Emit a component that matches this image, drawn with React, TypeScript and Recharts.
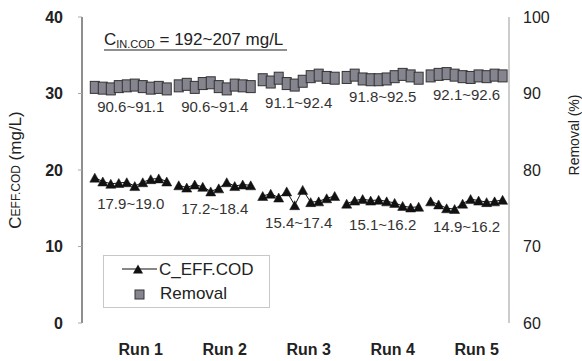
import React from 'react';
import {
  ComposedChart,
  Line,
  Scatter,
  XAxis,
  YAxis,
  ReferenceArea,
  ReferenceDot,
  Legend,
} from 'recharts';

const FONT = '"Liberation Sans", Arial, Helvetica, sans-serif';

// ---- data ----
const runLabels = ['Run 1', 'Run 2', 'Run 3', 'Run 4', 'Run 5'];

// C_EFF.COD (mg/L), left axis
const effRun1 = [19.0, 18.5, 18.2, 18.3, 18.4, 17.9, 18.4, 18.8, 18.9, 18.5];
const effRun2 = [18.0, 17.7, 18.1, 17.8, 17.2, 17.6, 18.4, 17.9, 18.1, 18.0];
const effRun3 = [16.6, 16.9, 16.4, 17.2, 15.4, 17.4, 15.8, 15.9, 16.3, 16.6];
const effRun4 = [15.6, 16.0, 16.2, 16.0, 16.1, 15.9, 15.7, 15.3, 15.1, 15.2];
const effRun5 = [15.9, 15.5, 15.0, 14.9, 15.6, 16.2, 16.0, 15.8, 15.9, 16.1];

// Removal (%), right axis
const remRun1 = [90.8, 90.7, 90.6, 90.9, 91.0, 91.1, 90.9, 90.7, 90.8, 90.6];
const remRun2 = [91.0, 91.2, 90.8, 91.3, 91.4, 90.9, 90.6, 91.1, 91.0, 90.9];
const remRun3 = [91.8, 91.5, 92.0, 91.3, 91.1, 91.6, 92.2, 92.4, 92.1, 92.0];
const remRun4 = [92.1, 92.4, 91.9, 91.8, 91.8, 91.9, 92.2, 92.5, 92.3, 92.0];
const remRun5 = [92.3, 92.5, 92.6, 92.4, 92.2, 92.1, 92.3, 92.2, 92.4, 92.3];

const leftTicks = [0, 10, 20, 30, 40];
const rightTicks = [60, 70, 80, 90, 100];

const effRuns = [effRun1, effRun2, effRun3, effRun4, effRun5];
const remRuns = [remRun1, remRun2, remRun3, remRun4, remRun5];

// ---- derived table ----
const RUN_STEP = 10.5;
const X_MIN = -1.6;
const X_MAX = 51.8;

const effData: any[] = [];
const removalData: any[] = [];
const pointTicks: number[] = [];
effRuns.forEach((vals, r) => {
  vals.forEach((v, i) => {
    const x = r * RUN_STEP + i;
    effData.push({ x, c: v });
    pointTicks.push(x);
  });
  effData.push({ x: r * RUN_STEP + vals.length - 0.25, c: null });
});
remRuns.forEach((vals, r) => {
  vals.forEach((v, i) => removalData.push({ x: r * RUN_STEP + i, r: v }));
});
const runCenters = runLabels.map((_, r) => r * RUN_STEP + (effRuns[r].length - 1) / 2);
const annotations = runLabels.map((_, r) => ({
  x: runCenters[r],
  effMin: Math.min(...effRuns[r]),
  effMax: Math.max(...effRuns[r]),
  remMin: Math.min(...remRuns[r]),
  remMax: Math.max(...remRuns[r]),
}));

// ---- shapes ----
const TriangleDot = (props: any) => {
  const { cx, cy, index } = props;
  if (cx == null || cy == null || isNaN(cy)) return <g key={`t${index}`} />;
  return (
    <polygon
      key={`t${index}`}
      points={`${cx - 5},${cy + 4.5} ${cx + 5},${cy + 4.5} ${cx},${cy - 4.5}`}
      fill="#111"
      stroke="#111"
      strokeWidth={0.5}
    />
  );
};

const SquareShape = (props: any) => {
  const { cx, cy } = props;
  return (
    <rect x={cx - 4.5} y={cy - 6} width={9} height={12} fill="#858590" stroke="#333" strokeWidth={1} />
  );
};

const RunTick = (props: any) => {
  const { x, y, payload } = props;
  const r = Math.round((payload.value - 4.5) / RUN_STEP);
  return (
    <text x={x + 10} y={y + 32} textAnchor="middle" fontSize={16} fontWeight="bold" fill="#222" fontFamily={FONT}>
      {runLabels[r]}
    </text>
  );
};

const TitleLabel = (props: any) => {
  const vb = props.viewBox || { x: 82, y: 17 };
  const x = vb.x + 22;
  const y = vb.y + 28;
  return (
    <g>
      <text x={x} y={y} fontSize={17} fill="#222" fontFamily={FONT}>
        C
        <tspan fontSize={11} dy={3}>IN.COD</tspan>
        <tspan dy={-3}> = 192~207 mg/L</tspan>
      </text>
      <line x1={x} x2={x + 183} y1={y + 5} y2={y + 5} stroke="#222" strokeWidth={1.2} />
    </g>
  );
};

const LeftTitle = (props: any) => {
  const vb = props.viewBox || { x: 0, y: 17, width: 82, height: 306 };
  const cx = vb.x + 15;
  const cy = vb.y + vb.height / 2;
  return (
    <text
      x={cx}
      y={cy}
      transform={`rotate(-90, ${cx}, ${cy})`}
      textAnchor="middle"
      dominantBaseline="central"
      fontSize={17}
      fill="#222"
      fontFamily={FONT}
    >
      C<tspan fontSize={12} dy={1}>EFF.COD</tspan>
      <tspan dy={-1}> (mg/L)</tspan>
    </text>
  );
};

const RightTitle = (props: any) => {
  const vb = props.viewBox || { x: 509, y: 17, width: 73, height: 306 };
  const cx = vb.x + 65;
  const cy = 135;
  return (
    <text
      x={cx}
      y={cy}
      transform={`rotate(-90, ${cx}, ${cy})`}
      textAnchor="middle"
      dominantBaseline="central"
      fontSize={14}
      fill="#222"
      fontFamily={FONT}
    >
      Removal (%)
    </text>
  );
};

const LegendBox = () => (
  <div style={{ width: 167, height: 53, background: '#fff' }}>
    <svg width={167} height={53} style={{ display: 'block' }}>
      <rect x={0.5} y={0.5} width={166} height={52} fill="#fff" stroke="#c8c8c8" />
      <line x1={19} x2={54} y1={14} y2={14} stroke="#111" strokeWidth={1.2} />
      <polygon points={`${35 - 5},${18.5} ${35 + 5},${18.5} ${35},${9.5}`} fill="#111" />
      <text x={56} y={14} dominantBaseline="central" fontSize={17} fill="#222" fontFamily={FONT}>
        C_EFF.COD
      </text>
      <rect x={32} y={35} width={9} height={9} fill="#858590" stroke="#333" />
      <text x={57} y={38} dominantBaseline="central" fontSize={17} fill="#222" fontFamily={FONT}>
        Removal
      </text>
    </svg>
  </div>
);

export default function App() {
  return (
    <div style={{ position: 'absolute', left: 0, top: 0, width: 582, height: 361, background: '#fff' }}>
      <ComposedChart
        width={582}
        height={361}
        data={effData}
        margin={{ top: 17, right: 0, bottom: 0, left: 0 }}
        style={{ fontFamily: FONT }}
      >
        <XAxis
          xAxisId="main"
          dataKey="x"
          type="number"
          domain={[X_MIN, X_MAX]}
          allowDataOverflow
          ticks={pointTicks}
          interval={0}
          tick={false}
          mirror
          height={0}
          tickSize={3}
          axisLine={{ stroke: '#444', strokeWidth: 1.2 }}
          tickLine={{ stroke: '#888' }}
        />
        <XAxis
          xAxisId="runs"
          dataKey="x"
          type="number"
          domain={[X_MIN, X_MAX]}
          allowDataOverflow
          ticks={runCenters}
          interval={0}
          height={38}
          axisLine={false}
          tickLine={false}
          tickSize={0}
          tickMargin={0}
          tick={<RunTick />}
        />
        <XAxis
          xAxisId="top"
          orientation="top"
          dataKey="x"
          type="number"
          domain={[X_MIN, X_MAX]}
          allowDataOverflow
          height={0}
          tick={false}
          tickLine={false}
          axisLine={{ stroke: '#aaa' }}
        />
        <YAxis
          yAxisId="left"
          domain={[0, 40]}
          ticks={leftTicks}
          interval={0}
          width={82}
          axisLine={{ stroke: '#444', strokeWidth: 1.2 }}
          tickLine={{ stroke: '#aaa' }}
          tickSize={4}
          tickMargin={15}
          tick={{ fontSize: 16, fontWeight: 'bold', fill: '#222', fontFamily: FONT }}
          label={LeftTitle}
        />
        <YAxis
          yAxisId="right"
          orientation="right"
          domain={[60, 100]}
          ticks={rightTicks}
          interval={0}
          width={73}
          axisLine={{ stroke: '#999' }}
          tickLine={false}
          tickSize={0}
          tickMargin={14}
          tick={{ fontSize: 16, fill: '#222', fontFamily: FONT, textAnchor: 'start' }}
          label={RightTitle}
        />
        <ReferenceArea
          xAxisId="main"
          yAxisId="left"
          x1={X_MIN}
          x2={X_MAX}
          y1={0}
          y2={40}
          fill="none"
          fillOpacity={0}
          stroke="none"
          label={TitleLabel}
        />
        <Line
          xAxisId="main"
          yAxisId="left"
          dataKey="c"
          stroke="#111"
          strokeWidth={1}
          dot={TriangleDot}
          activeDot={false}
          connectNulls={false}
          isAnimationActive={false}
        />
        <Scatter
          xAxisId="main"
          yAxisId="right"
          data={removalData}
          dataKey="r"
          shape={SquareShape}
          isAnimationActive={false}
        />
        {annotations.map((a, i) => (
          <ReferenceDot
            key={`e${i}`}
            xAxisId="main"
            yAxisId="left"
            x={a.x}
            y={a.effMin}
            r={1}
            fill="none"
            stroke="none"
            label={{
              value: `${a.effMin.toFixed(1)}~${a.effMax.toFixed(1)}`,
              position: 'bottom',
              offset: 11,
              fill: '#333',
              fontSize: 15,
              fontFamily: FONT,
            }}
          />
        ))}
        {annotations.map((a, i) => (
          <ReferenceDot
            key={`r${i}`}
            xAxisId="main"
            yAxisId="right"
            x={a.x}
            y={a.remMin}
            r={1}
            fill="none"
            stroke="none"
            label={{
              value: `${a.remMin.toFixed(1)}~${a.remMax.toFixed(1)}`,
              position: 'bottom',
              offset: 11,
              fill: '#333',
              fontSize: 15,
              fontFamily: FONT,
            }}
          />
        ))}
        <Legend
          layout="horizontal"
          verticalAlign="middle"
          align="center"
          content={LegendBox}
          wrapperStyle={{ left: 103, top: 255, width: 167, height: 53 }}
        />
      </ComposedChart>
    </div>
  );
}
